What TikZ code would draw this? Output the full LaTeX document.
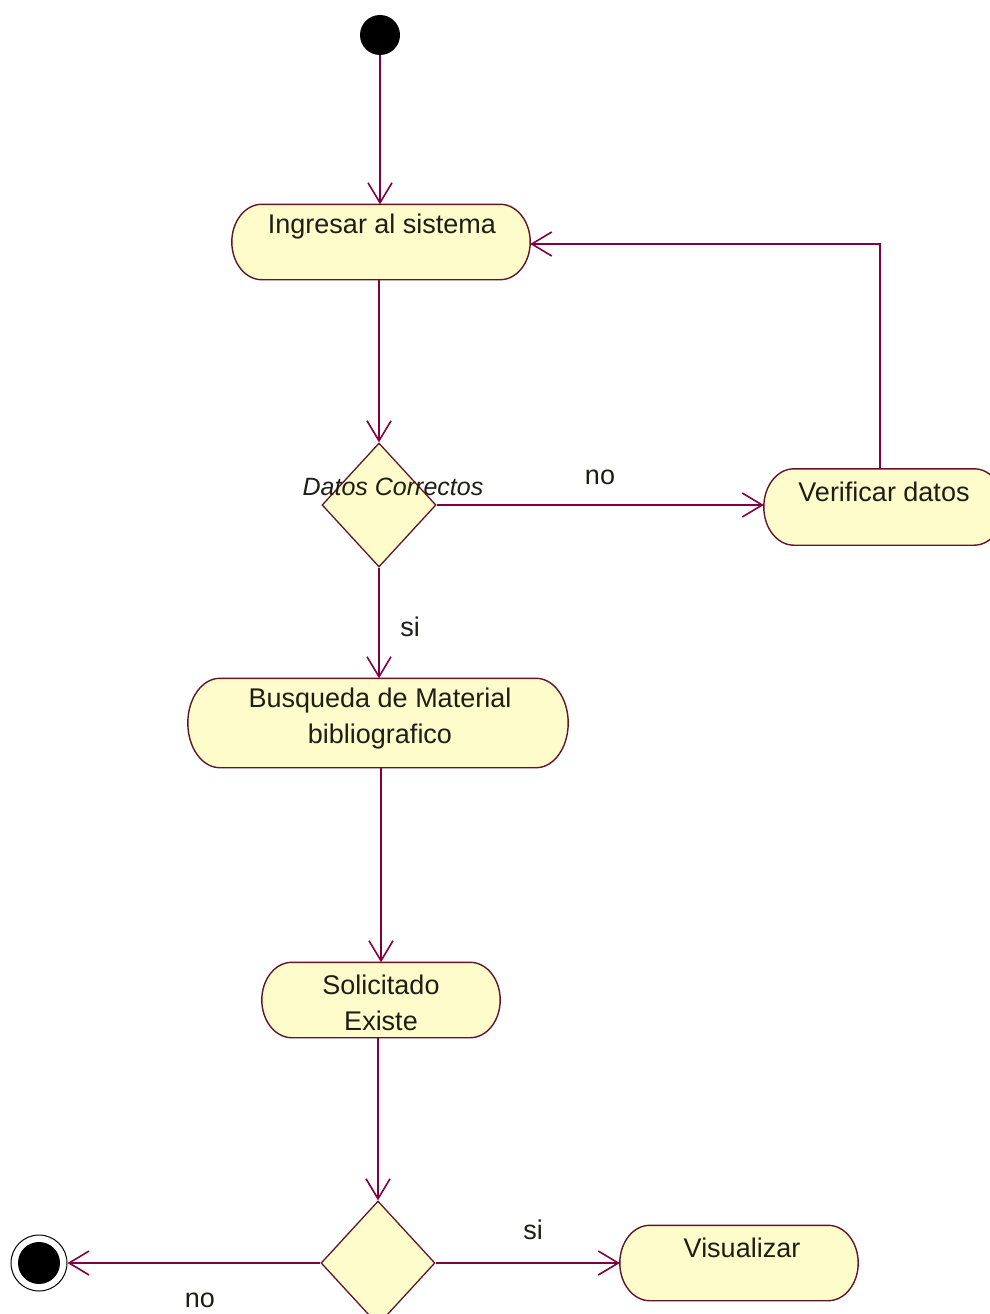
\documentclass[tikz,border=0pt]{standalone}
\usepackage{fontspec}
\setmainfont{Liberation Sans}
\usetikzlibrary{arrows.meta,shapes.geometric,calc,backgrounds}
\definecolor{edge}{RGB}{128,0,64}
\definecolor{outl}{RGB}{100,20,40}
\definecolor{actfill}{RGB}{255,252,204}
\definecolor{txt}{RGB}{30,30,20}
\tikzset{
  flow/.style={draw=edge, line width=2pt, -{Straight Barb[length=20pt,width=24pt,line width=1.6pt]}},
  actshape/.style={rectangle, inner sep=0pt, draw=none},
  acttext/.style={font=\fontsize{27}{36}\selectfont, text=txt, align=center, inner sep=0pt},
  condtext/.style={font=\fontsize{25}{30}\selectfont\itshape, text=txt, inner sep=0pt},
  decision/.style={diamond, draw=outl, fill=actfill, line width=1.3pt, inner sep=0pt,
                   minimum width=114pt, minimum height=124pt},
  lab/.style={font=\fontsize{27}{32}\selectfont, text=txt, inner sep=0pt},
}
\newcommand{\actoutline}[2]{%
  \path[draw=outl, fill=actfill, line width=1.4pt]
    let \p1=(#1.north west), \p2=(#1.south east), \n1={(\y1-\y2)/2} in
    (\x1+#2pt,\y1) -- (\x2-#2pt,\y1)
    arc[start angle=90, end angle=-90, x radius=#2pt, y radius=\n1]
    -- (\x1+#2pt,\y2)
    arc[start angle=270, end angle=90, x radius=#2pt, y radius=\n1]
    -- cycle;}
\begin{document}
\begin{tikzpicture}[x=1pt, y=-1pt]
  \useasboundingbox (0,0) rectangle (990,1314);
  \clip (0,0) rectangle (990,1314);

  % nodes
  \node[circle, fill=black, minimum size=40pt, inner sep=0pt] (start) at (380,35) {};

  \node[actshape, minimum width=298pt, minimum height=75pt] (ingresar) at (381,242) {};
  \node[acttext] (tingresar) at (382,227) {Ingresar al sistema};

  \node[decision] (d1) at (379,505) {};
  \node[condtext] (tdatos) at (393,487) {Datos Correctos};

  \node[actshape, minimum width=240pt, minimum height=76pt] (verificar) at (884,507) {};
  \node[acttext] (tverificar) at (884,492) {Verificar datos};

  \node[actshape, minimum width=380pt, minimum height=89pt] (busqueda) at (378,723) {};
  \node[acttext] (tbusqueda) at (380,719) {Busqueda de Material\\bibliografico};

  \node[actshape, minimum width=238pt, minimum height=75pt] (solicitado) at (381,1000) {};
  \node[acttext] (tsolicitado) at (381,1003) {Solicitado\\Existe};

  \node[decision] (d2) at (378,1263) {};

  \node[circle, draw=black, line width=1pt, minimum size=56pt, inner sep=0pt] (end) at (39,1263) {};
  \node[circle, fill=black, minimum size=42pt, inner sep=0pt] (endin) at (39,1263) {};

  \node[actshape, minimum width=238pt, minimum height=75pt] (visualizar) at (739,1263) {};
  \node[acttext] (tvisualizar) at (742,1248) {Visualizar};

  % background and activity outlines
  \begin{scope}[on background layer]
    \fill[white] (0,0) rectangle (990,1314);
    \actoutline{ingresar}{30}
    \actoutline{verificar}{30}
    \actoutline{busqueda}{32}
    \actoutline{solicitado}{30}
    \actoutline{visualizar}{30}
  \end{scope}

  % connectors
  \draw[flow] (start.south) -- (start.south |- ingresar.north);
  \draw[flow] (ingresar.south -| d1.north) -- (d1.north);
  \draw[flow] (d1.east) -- (d1.east -| verificar.west);
  \draw[flow] ([xshift=-4pt]verificar.north) |- ([yshift=-2pt]ingresar.east);
  \draw[flow] (d1.south) -- (d1.south |- busqueda.north);
  \draw[flow] (busqueda.south -| solicitado.north) -- (solicitado.north);
  \draw[flow] (solicitado.south -| d2.north) -- (d2.north);
  \draw[flow] (d2.west) -- (end.east);
  \draw[flow] (d2.east) -- (d2.east -| visualizar.west);

  % labels
  \node[lab] (lno1) at (600,477) {no};
  \node[lab] (lsi1) at (410,627) {si};
  \node[lab] (lsi2) at (533,1230) {si};
  \node[lab] (lno2) at (200,1300) {no};
\end{tikzpicture}
\end{document}
